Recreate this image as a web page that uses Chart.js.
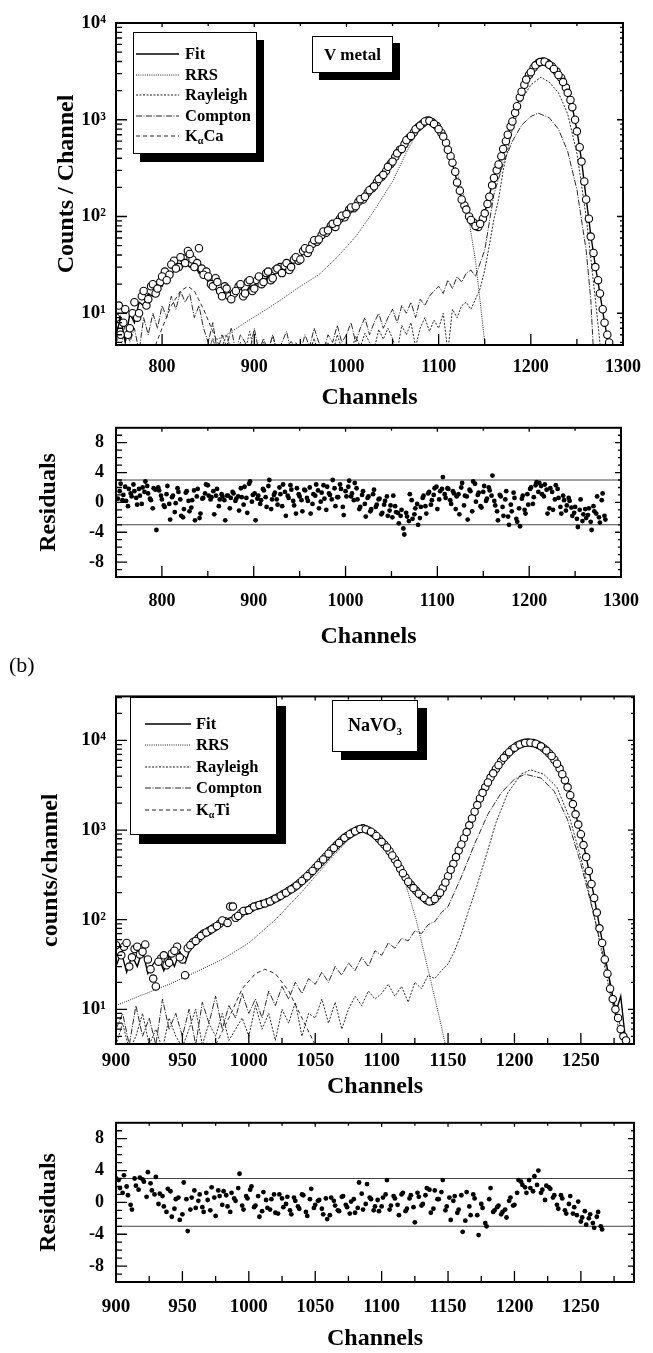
<!DOCTYPE html>
<html>
<head>
<meta charset="utf-8">
<script src="https://cdn.jsdelivr.net/npm/chart.js@4/dist/chart.umd.min.js"></script>
<style>
  body { margin: 0; background: #fff; width: 653px; height: 1353px; position: relative; overflow: hidden;
         font-family: "Liberation Serif", "Times New Roman", serif; }
  canvas { position: absolute; left: 0; }
  .box { position: absolute; box-sizing: border-box; background: #fff; border: 1px solid #000;
         font-weight: bold; color: #000; z-index: 5; }
  .legend .row { display: flex; align-items: center; height: 20.5px; font-size: 16.5px; }
  .legend svg { display: block; }
  .legend sub { font-size: 10px; vertical-align: -3px; }
  .tag { display: flex; align-items: center; justify-content: center; font-size: 17px; }
  .tag sub { font-size: 11px; vertical-align: -4px; }
</style>
</head>
<body>
<canvas id="vSpec" width="653" height="412" style="top:0px"></canvas>
<canvas id="vRes" width="653" height="246" style="top:405px"></canvas>
<canvas id="nSpec" width="653" height="426" style="top:675px"></canvas>
<canvas id="nRes" width="653" height="253" style="top:1100px"></canvas>

<div class="box legend" style="left:133px;top:32px;width:124px;height:122px;padding:11px 0 0 2px;box-shadow:7px 8px 0 #000">
  <div class="row"><svg width="43" height="4"><line x1="0" y1="2" x2="43" y2="2" stroke="#000" stroke-width="1.5"/></svg><span style="margin-left:6px">Fit</span></div>
  <div class="row"><svg width="43" height="4"><line x1="0" y1="2" x2="43" y2="2" stroke="#222" stroke-width="1" stroke-dasharray="1,1.2"/></svg><span style="margin-left:6px">RRS</span></div>
  <div class="row"><svg width="43" height="4"><line x1="0" y1="2" x2="43" y2="2" stroke="#222" stroke-width="1" stroke-dasharray="2,1.5"/></svg><span style="margin-left:6px">Rayleigh</span></div>
  <div class="row"><svg width="43" height="4"><line x1="0" y1="2" x2="43" y2="2" stroke="#222" stroke-width="1" stroke-dasharray="6,1.5,1,1.5"/></svg><span style="margin-left:6px">Compton</span></div>
  <div class="row"><svg width="43" height="4"><line x1="0" y1="2" x2="43" y2="2" stroke="#222" stroke-width="1" stroke-dasharray="4,3"/></svg><span style="margin-left:6px">K<sub>α</sub>Ca</span></div>
</div>
<div class="box tag" style="left:312px;top:36px;width:81px;height:37px;box-shadow:7px 7px 0 #000">V metal</div>

<div style="position:absolute;left:9px;top:652px;font-size:22px;z-index:5">(b)</div>

<div class="box legend" style="left:130px;top:697px;width:147px;height:138px;padding:15px 0 0 14px;box-shadow:9px 9px 0 #000">
  <div class="row" style="height:21.5px"><svg width="46" height="4"><line x1="0" y1="2" x2="46" y2="2" stroke="#000" stroke-width="1.5"/></svg><span style="margin-left:5px">Fit</span></div>
  <div class="row" style="height:21.5px"><svg width="46" height="4"><line x1="0" y1="2" x2="46" y2="2" stroke="#222" stroke-width="1" stroke-dasharray="1,1.2"/></svg><span style="margin-left:5px">RRS</span></div>
  <div class="row" style="height:21.5px"><svg width="46" height="4"><line x1="0" y1="2" x2="46" y2="2" stroke="#222" stroke-width="1" stroke-dasharray="2,1.5"/></svg><span style="margin-left:5px">Rayleigh</span></div>
  <div class="row" style="height:21.5px"><svg width="46" height="4"><line x1="0" y1="2" x2="46" y2="2" stroke="#222" stroke-width="1" stroke-dasharray="6,1.5,1,1.5"/></svg><span style="margin-left:5px">Compton</span></div>
  <div class="row" style="height:21.5px"><svg width="46" height="4"><line x1="0" y1="2" x2="46" y2="2" stroke="#222" stroke-width="1" stroke-dasharray="4,3"/></svg><span style="margin-left:5px">K<sub>α</sub>Ti</span></div>
</div>
<div class="box tag" style="left:332px;top:700px;width:86px;height:52px;font-size:18px;box-shadow:9px 8px 0 #000"><span>NaVO<sub>3</sub></span></div>

<script>
// ===== DATA =====

const range = (a, b, s) => Array.from({ length: Math.floor((b - a) / s) + 1 }, (_, i) => a + i * s);

// ----- (a) V metal spectrum, measured points -----
const V_CH = range(750, 1285, 5);
const V_DATA = [
  9, 6, 11, 7, 13, 10, 17, 14, 20, 18,            // 750-795
  24, 22, 32, 29, 38, 33, 41, 30, 47, 25,         // 800-845
  24, 19, 21, 15, 18, 14, 17, 20, 16, 22,         // 850-895
  18, 24, 21, 27, 23, 29, 26, 33, 30, 38,         // 900-945
  36, 47, 46, 57, 58, 70, 72, 84, 88, 102,        // 950-995
  106, 124, 128, 151, 160, 187, 205, 244, 270, 326, // 1000-1045
  370, 450, 500, 615, 680, 800, 870, 960, 975, 905, // 1050-1095
  800, 670, 490, 360, 225, 150, 118, 92, 80, 84,  // 1100-1145
  108, 160, 250, 345, 500, 700, 960, 1380, 1950, 2600, // 1150-1195
  3100, 3650, 3950, 3980, 3700, 3350, 2900, 2450, 1900, 1350, // 1200-1245
  760, 370, 150, 62, 30, 16, 8, 5                 // 1250-1285
];
const V_CH_B = range(753, 1283, 5);
const V_DATA_B = [
  12, 8, 6, 10, 9, 15, 12, 19, 16, 21,            // 753-798
  27, 25, 35, 30, 37, 44, 36, 33, 29, 27,         // 803-848
  20, 23, 17, 19, 15, 16, 19, 15, 21, 17,         // 853-898
  22, 20, 26, 22, 28, 30, 31, 28, 36, 35,         // 903-948
  44, 42, 52, 55, 64, 68, 80, 78, 95, 98,         // 953-998
  118, 122, 142, 150, 176, 196, 226, 256, 296, 350, // 1003-1048
  415, 490, 560, 650, 740, 840, 920, 985, 940, 860, // 1053-1098
  730, 580, 420, 290, 185, 130, 100, 86, 78, 95,  // 1103-1148
  135, 210, 300, 420, 600, 850, 1180, 1700, 2300, 2900, // 1153-1198
  3450, 3850, 4000, 3850, 3550, 3150, 2700, 2150, 1600, 1000, // 1203-1248
  520, 230, 95, 42, 22, 11, 6                     // 1253-1283
];
const V_FIT = [
  6, 9, 5, 10, 8, 13, 12, 16, 15, 20,
  19, 25, 24, 31, 28, 33, 30, 32, 26, 27,
  21, 22, 16, 18, 15, 17, 15, 18, 16, 19,
  19, 22, 21, 24, 24, 27, 27, 31, 32, 36,
  38, 44, 48, 54, 58, 66, 72, 80, 88, 98,
  108, 120, 132, 147, 164, 185, 208, 238, 272, 318,
  372, 437, 512, 598, 688, 783, 875, 945, 962, 912,
  810, 665, 500, 350, 230, 150, 112, 92, 82, 86,
  110, 165, 255, 350, 490, 690, 980, 1400, 1950, 2550,
  3150, 3600, 3920, 3960, 3750, 3380, 2900, 2450, 1900, 1350,
  780, 380, 155, 65, 31, 16, 8, 4.5
];
const V_RRS_X = [853, 870, 890, 910, 930, 950, 970, 990, 1010, 1030, 1050, 1065, 1075, 1085, 1090, 1100, 1110, 1120, 1130, 1140, 1150];
const V_RRS   = [5, 6, 8, 10.5, 14, 19, 25, 38, 62, 115, 230, 460, 690, 890, 920, 790, 530, 285, 135, 35, 5];
const V_RAY_X = range(850, 1150, 5).concat([1155, 1160, 1165, 1170, 1180, 1190, 1200, 1211, 1220, 1230, 1240, 1250, 1260, 1270, 1276]);
const V_RAY = [
  4, 5.5, 3.8, 4.5, 6, 4, 3.5, 5, 4, 6.5,
  4, 3.6, 5, 4.2, 5.8, 3.9, 4.6, 3.5, 5.2, 4,
  3.7, 4.8, 4, 5.5, 3.6, 4.4, 5, 3.8, 6, 4.3,
  5, 4, 5.8, 4.5, 6.2, 5, 4.2, 6.8, 5.4, 7,
  5.5, 4, 7.5, 6, 8, 4.5, 7, 9, 6.5, 8.5,
  7, 10, 4, 11, 9, 12, 13, 11, 14, 18,
  28,
  50, 94, 150, 300, 800, 1600, 2300, 2750, 2450, 1900, 1150, 450, 100, 14, 4
];
const V_COMP_X = range(750, 1150, 5).concat([1160, 1170, 1180, 1190, 1200, 1208, 1220, 1230, 1240, 1250, 1260, 1265, 1268]);
const V_COMP = [
  6, 4, 8, 5, 7, 4, 9, 6, 10, 7,
  12, 9, 15, 11, 17, 13, 16, 9, 12, 7,
  5, 8, 4, 6, 4.5, 7, 4, 6, 5, 4,
  7, 4, 5.5, 4, 6, 4, 5, 6.5, 4, 5,
  4, 6, 4.5, 7, 5, 4, 6, 5, 7.5, 5,
  6, 8, 5, 7, 9, 6, 8, 10, 7, 9,
  11, 8, 12, 10, 13, 9, 14, 12, 15, 17,
  19, 16, 22, 18, 24, 21, 26, 28, 24, 33,
  45,
  170, 350, 600, 880, 1080, 1170, 1050, 800, 470, 190, 45, 14, 4
];
const V_KCA_X = [790, 800, 810, 820, 828, 835, 845, 855, 865];
const V_KCA   = [4, 7, 12, 17, 19, 17, 11, 6.5, 4];

// ----- (a) V metal residuals -----
const V_RES_CH = range(752, 1283, 3);
const V_RES = [
  0.5, 2.5, 1.0, 0.2, 1.8, 0.8, 1.5, -0.3, 0.9, 2.0, 2.8, 1.2, 0.3, 1.9, -3.7, 1.6, 0.4,
  -0.6, 2.2, -2.3, 0.9, -0.1, 1.4, -1.8, -0.9, 1.5, -1.2, 0.3, -2.4, 1.8, -1.5, 0.6, 2.4, 0.9,
  0.7, -1.6, 1.8, 0.4, 0.8, -2.4, 0.9, 0.6, 1.2, 0.5, -1.1, 0.7, 2.1, -1.4, 2.8, 1.0, -2.4,
  0.9, 0.3, 1.6, -0.6, 3.0, 0.4, 1.3, -0.3, 1.1, 2.4, -1.8, 0.6, 1.7, -0.4, 1.9, 0.8, -1.2,
  1.6, 0.2, -1.5, 1.1, 2.4, -0.8, 1.3, 0.5, 2.1, 1.0, 3.0, -0.5, 0.7, 1.8, -1.7, 0.8, 2.9,
  1.2, 2.6, 0.4, -0.6, 1.5, -1.9, 0.8, -0.9, 1.7, -0.3, 0.5, -1.4, 0.2, -1.8, -0.4, 0.9, -1.3,
  -2.8, -1.0, -4.3, -1.9, 1.1, -2.2, -0.8, -3.0, -0.6, 0.9, -1.5, 1.4, 0.3, 1.9, -0.9, 1.5, 3.4,
  0.6, 1.8, -0.2, 1.2, 0.8, -1.6, 2.6, 0.9, -2.3, 1.5, 2.8, 0.1, 1.3, -0.7, 2.2, 0.5, 1.6,
  3.6, -0.4, -2.4, 0.8, -1.8, 1.5, -3.0, -1.2, 0.6, -2.6, -3.2, 0.9, -1.5, -0.3, 2.0, 0.7, 2.7,
  2.6, 1.1, 2.4, -1.5, 1.9, -1.0, 2.3, 0.6, -1.5, 0.3, -0.4, 0.2, -1.8, -0.6, -3.3, 0.4, -1.6,
  -2.1, -0.8, -3.7, -1.2, 0.8, -2.7, 1.2, -2.3
];
const V_RES_CH_B = range(754, 1282, 3);
const V_RES_B = [
  1.5, 0.3, 2.1, -0.5, 1.2, 2.4, 0.6, 1.8, -0.2, 1.4, 2.2, 0.5, -0.8, 1.7, 2.0, 0.9, -0.4,
  1.1, -0.2, 0.7, -1.3, 1.9, 0.4, -2.0, 1.3, 0.2, -0.7, 1.6, 0.8, -2.1, 0.5, 1.2, 2.3, 0.4,
  1.5, 0.9, -0.5, 1.1, 0.3, 0.9, -0.8, 1.4, 0.2, 0.8, 1.9, -0.3, 0.6, 2.5, 0.1, 1.2, 0.5,
  -0.2, 1.8, 0.7, 2.2, -0.9, 1.0, 0.4, 2.0, -0.5, 1.4, 0.9, 2.3, 0.2, -1.5, 1.1, 0.3, 1.7,
  0.6, 2.0, -0.2, 0.9, 1.6, 0.1, 2.3, -1.0, 1.2, 0.4, 1.9, 0.7, 2.4, -0.6, 1.5, 2.1, 0.8,
  0.3, 1.9, -0.9, 1.0, -0.2, 0.6, -1.2, 1.1, -0.6, 0.4, -1.6, -0.3, 0.8, -1.1, -2.0, -0.5, -1.4,
  -1.8, -3.5, -1.4, -2.5, 0.3, -1.6, -0.2, -2.1, 0.6, -0.5, 1.2, -0.3, 1.0, 2.1, 0.4, 1.8, 1.1,
  1.9, 0.3, 1.5, -0.9, 1.1, 2.0, -0.4, 0.8, 1.7, -1.2, 2.5, 1.0, -0.5, 1.4, 0.2, 2.0, 0.9,
  0.2, -1.2, 1.0, -0.6, 0.4, -1.9, -0.3, 1.3, -2.2, -0.8, 0.5, -1.0, 1.1, 1.8, -0.2, 2.3, 1.4,
  2.2, 0.8, 1.7, -0.8, 1.4, 0.4, 1.8, -0.6, 0.9, -1.1, 0.6, -0.7, -1.4, -2.2, -1.0, -2.5, -0.9,
  -1.7, -2.6, -0.5, -1.5, -2.0, 0.3, -1.8
];

// ----- (b) NaVO3 spectrum, measured points -----
const N_CH = range(900, 1284, 4);
const N_DATA = [
  52, 40, 55, 38, 50, 44, 36, 22, 34, 40,                 // 900-936
  33, 45, 38, 24, 52, 58, 66, 72, 78, 85,                 // 940-976
  98, 92, 140, 110, 125, 128, 140, 146, 152, 160,         // 980-1016
  172, 185, 200, 218, 240, 270, 305, 350, 405, 470,       // 1020-1056
  545, 630, 720, 820, 900, 970, 1030, 1020, 960, 860,     // 1060-1096
  740, 640, 520, 420, 330, 265, 225, 195, 175, 160,       // 1100-1136
  170, 200, 260, 360, 500, 690, 950, 1350, 1900, 2600,    // 1140-1176
  3400, 4300, 5300, 6400, 7400, 8300, 9000, 9400, 9450, 9200, // 1180-1216
  8600, 7700, 6700, 5500, 4200, 3000, 1950, 1150, 680, 350,   // 1220-1256
  175, 80, 36, 17, 10, 6, 4.5                             // 1260-1284
];
const N_CH_B = range(902, 1282, 4);
const N_DATA_B = [
  45, 50, 30, 47, 41, 53, 28, 18, 37, 31,                 // 902-938
  42, 50, 36, 48, 56, 62, 70, 75, 82, 90,                 // 942-978
  96, 140, 105, 118, 126, 135, 143, 150, 156, 166,        // 982-1018
  178, 193, 210, 228, 255, 288, 328, 378, 438, 505,       // 1022-1058
  590, 675, 770, 860, 940, 1010, 1050, 990, 910, 800,     // 1062-1098
  690, 580, 470, 370, 295, 245, 210, 185, 165, 162,       // 1102-1138
  185, 225, 305, 420, 590, 810, 1130, 1600, 2250, 3000,   // 1142-1178
  3850, 4800, 5850, 6900, 7900, 8700, 9250, 9500, 9350, 8900, // 1182-1218
  8200, 7200, 6100, 4850, 3600, 2450, 1500, 900, 500, 250,    // 1222-1258
  120, 55, 25, 13, 8, 5                                   // 1262-1282
];
const N_FIT = [
  30, 44, 26, 40, 30, 46, 25, 32, 38, 27,
  40, 30, 44, 33, 48, 56, 64, 71, 78, 86,
  94, 102, 108, 114, 120, 126, 133, 140, 148, 158,
  170, 183, 198, 216, 238, 266, 302, 346, 400, 465,
  540, 625, 715, 810, 895, 965, 1010, 1005, 950, 855,
  740, 625, 510, 410, 325, 262, 220, 192, 175, 168,
  172, 195, 250, 350, 490, 680, 940, 1330, 1870, 2570,
  3380, 4280, 5280, 6350, 7380, 8250, 8950, 9350, 9420, 9150,
  8550, 7680, 6650, 5480, 4200, 3000, 1960, 1170, 690, 360,
  180, 85, 40, 20, 9, 14, 4
];
const N_RRS_X = [900, 920, 940, 960, 980, 1000, 1020, 1040, 1060, 1075, 1085, 1095, 1105, 1116, 1126, 1134, 1144, 1148];
const N_RRS   = [11, 14.5, 19, 26, 36, 55, 100, 205, 450, 780, 990, 900, 640, 320, 100, 32, 7.5, 4];
const N_RAY_X = range(900, 1155, 5).concat([1160, 1165, 1171, 1180, 1186, 1195, 1205, 1212, 1222, 1232, 1242, 1252, 1262, 1272, 1280]);
const N_RAY = [
  4, 7, 3.5, 5, 9, 4, 6, 3.6, 8, 5,
  3.8, 6, 10, 4, 7, 5, 9, 4.5, 6, 8,
  5, 11, 6, 9, 4.5, 10, 7, 12, 5, 9,
  8, 13, 7, 12, 6, 10, 14, 11, 16, 13,
  15, 19, 14, 18, 12, 20, 17, 24, 22, 27,
  32, 45,
  70, 120, 220, 600, 1200, 2600, 4200, 4700, 4200, 3000, 1300, 380, 80, 15, 5
];
const N_COMP_X = range(900, 1145, 5).concat([1150, 1160, 1170, 1180, 1190, 1200, 1208, 1220, 1230, 1240, 1250, 1260, 1270, 1278, 1284]);
const N_COMP = [
  6, 9, 4, 11, 5, 8, 4, 13, 6, 9,
  5, 10, 4, 12, 7, 14, 6, 11, 8, 15,
  9, 13, 8, 16, 11, 18, 13, 20, 15, 22,
  19, 26, 20, 30, 24, 33, 27, 38, 30, 45,
  40, 55, 48, 62, 58, 75, 70, 88, 95, 120,
  140, 300, 700, 1500, 2600, 3700, 4200, 3800, 2700, 1300, 420, 110, 25, 8, 4
];
const N_KTI_X = [975, 985, 995, 1005, 1012, 1020, 1030, 1040, 1050];
const N_KTI   = [4, 8, 17, 25, 28, 25, 16, 8, 4];

// ----- (b) NaVO3 residuals -----
const N_RES_CH = range(900, 1266, 3);
const N_RES = [
  3.0, 1.8, 3.4, 0.9, -0.9, 2.1, 3.1, 2.6, 3.8, 1.5, 3.2, 1.1, -0.5, 1.7, -1.8, 0.4, -2.2,
  2.5, -3.6, 0.6, -0.7, 1.0, -1.2, 0.3, 1.9, -1.7, 0.8, 1.4, -0.5, 1.2, 0.2, 3.6, -0.9, 0.5,
  2.0, -0.4, -1.8, 1.3, -0.7, 0.4, -1.3, 1.0, -0.6, 0.7, -1.5, 0.2, -0.8, 0.9, -1.7, 1.7, -0.3,
  0.3, -1.5, -2.1, 0.6, -0.4, -1.1, 0.8, -0.6, 0.1, -1.3, 2.5, -0.9, 2.3, 0.4, -0.5, -1.1, 0.6,
  2.8, -0.4, 0.5, -1.6, 1.2, -0.8, 0.9, -2.5, 0.7, -0.2, 1.8, -1.3, 1.5, 0.4, 2.8, -0.5, -2.2,
  0.8, -0.9, -3.7, 1.3, -1.6, 0.5, -4.1, -0.7, -3.0, 1.8, -1.0, -0.4, -1.2, -1.9, 0.6, -0.3, 2.8,
  2.2, 1.2, 1.8, 3.3, 4.0, 1.6, 2.1, 1.7, 0.9, -0.8, 0.5, -1.4, 0.8, -0.6, 0.1, -1.9, -2.8,
  -1.5, -3.2, -1.2, -3.4
];
const N_RES_CH_B = range(902, 1265, 3);
const N_RES_B = [
  2.8, 1.2, 2.0, -0.3, 3.0, 1.6, 2.9, 0.7, 2.4, 1.0, -0.2, 0.8, -1.2, 1.4, -0.8, 0.6, -1.5,
  0.4, -0.9, 1.5, 0.2, -0.6, 1.2, -1.0, 0.6, 1.5, -0.3, 0.9, -1.2, 0.5, 1.8, -0.4, 0.8, 1.6,
  -0.6, 0.8, -1.1, 0.3, -0.9, 1.0, -1.4, 0.5, -0.2, -1.0, 0.6, -0.5, 1.0, -1.2, 0.4, -0.7, 0.2,
  -0.8, 0.5, -1.6, 0.2, -1.0, 0.7, -0.3, -1.4, 0.4, -0.7, 1.1, -0.2, 0.6, -1.0, 0.3, -0.5, 1.0,
  -0.9, 0.8, -0.3, 1.0, -1.1, 0.5, -0.6, 1.2, -0.4, 0.9, 1.6, -0.8, 0.4, 1.3, -1.0, 0.6, 0.2,
  -1.3, 0.9, -2.3, -0.5, 1.0, -1.6, -0.2, -2.6, 0.4, -1.2, -0.6, -1.5, -0.9, 0.2, -0.4, 1.2, 2.6,
  1.9, 2.8, 1.4, 2.2, 1.2, 0.3, 1.9, 0.6, -0.3, 0.9, -1.0, -0.2, -1.4, -1.6, -2.4, -1.1, -2.0,
  -2.6, -1.8, -3.0
];

// ----- axes -----
const V_X_TICKS = [800, 900, 1000, 1100, 1200, 1300];
const V_X_MINOR = [850, 950, 1050, 1150, 1250];
const N_X_TICKS = [900, 950, 1000, 1050, 1100, 1150, 1200, 1250];
const N_X_MINOR = [925, 975, 1025, 1075, 1125, 1175, 1225, 1275];
const LOG_TICKS = [10, 100, 1000, 10000];
const RES_TICKS = [-8, -4, 0, 4, 8];
const RES_MINOR = [-9, -7, -6, -5, -3, -2, -1, 1, 2, 3, 5, 6, 7, 9];
const LIMITS = [3, -3];

// ===== DRAWING =====

const FAMILY = "'Liberation Serif', 'Times New Roman', serif";
const SUP = { 1: '¹', 2: '²', 3: '³', 4: '⁴' };

function logMinors(lo, hi) {
  const out = [];
  for (let e = 0; e <= 4; e++)
    for (let m = 2; m <= 9; m++) { const v = m * Math.pow(10, e); if (v > lo && v < hi) out.push(v); }
  return out;
}

// frame round the plot area, with inward ticks on all four sides
function framePlugin(t) {
  return {
    id: 'frame',
    afterDatasetsDraw(chart) {
      const { ctx, chartArea: a, scales: { x, y } } = chart;
      ctx.save();
      ctx.strokeStyle = '#000';
      ctx.lineWidth = 1.3;
      ctx.beginPath();
      const seg = (x1, y1, x2, y2) => { ctx.moveTo(x1, y1); ctx.lineTo(x2, y2); };
      t.xMajor.forEach(v => { const p = x.getPixelForValue(v); seg(p, a.bottom, p, a.bottom - 11); seg(p, a.top, p, a.top + 4); });
      t.xMinor.forEach(v => { const p = x.getPixelForValue(v); seg(p, a.bottom, p, a.bottom - 6); seg(p, a.top, p, a.top + 3); });
      t.yMajor.forEach(v => { const p = y.getPixelForValue(v); seg(a.left, p, a.left + 11, p); seg(a.right, p, a.right - 6, p); });
      t.yMinor.forEach(v => { const p = y.getPixelForValue(v); seg(a.left, p, a.left + 6, p); seg(a.right, p, a.right - 3, p); });
      ctx.stroke();
      ctx.lineWidth = 2;
      ctx.strokeRect(a.left, a.top, a.right - a.left, a.bottom - a.top);
      ctx.restore();
    }
  };
}

const pts = (xs, ys) => xs.map((x, i) => ({ x, y: ys[i] }));

const curve = (xs, ys, dash, width = 1, color = '#2a2a2a') => ({
  data: pts(xs, ys), showLine: true, pointRadius: 0, borderColor: color,
  borderWidth: width, borderDash: dash, tension: 0, fill: false
});

const circles = (xs, ys) => ({
  data: pts(xs, ys), showLine: false, pointRadius: 3.7, pointBorderWidth: 1.1,
  pointBackgroundColor: '#fff', pointBorderColor: '#000'
});

const dots = (xs, ys) => ({
  data: pts(xs, ys), showLine: false, pointRadius: 2.4, pointBorderWidth: 0,
  pointBackgroundColor: '#000', pointBorderColor: '#000'
});

function makeChart(id, o) {
  return new Chart(document.getElementById(id), {
    type: 'scatter',
    data: { datasets: o.datasets },
    options: {
      responsive: false, animation: false, devicePixelRatio: 1,
      events: [],
      layout: { padding: { top: o.padTop, right: 19, left: 0, bottom: 0 } },
      plugins: { legend: { display: false }, tooltip: { enabled: false } },
      scales: {
        x: {
          type: 'linear', min: o.xMin, max: o.xMax,
          grid: { display: false, drawTicks: false }, border: { display: false },
          afterBuildTicks: s => { s.ticks = o.xTicks.map(v => ({ value: v })); },
          afterFit: s => { s.height = o.xHeight; },
          ticks: { color: '#000', padding: o.xPad, maxRotation: 0, autoSkip: false,
                   font: { family: FAMILY, size: o.xFont, weight: 'bold' }, callback: v => String(v) },
          title: { display: true, text: 'Channels', color: '#000', padding: { top: 0, bottom: 0 },
                   font: { family: FAMILY, size: 24, weight: 'bold' } }
        },
        y: {
          type: o.yType, min: o.yMin, max: o.yMax,
          grid: { display: false, drawTicks: false }, border: { display: false },
          afterBuildTicks: s => { s.ticks = o.yTicks.map(v => ({ value: v })); },
          afterFit: s => { s.width = 116; },
          ticks: { color: '#000', padding: o.yPad, autoSkip: false,
                   font: { family: FAMILY, size: o.yFont, weight: 'bold' }, callback: o.yLabel },
          title: { display: true, text: o.yTitle, color: '#000', padding: { top: o.yTitlePad, bottom: 0 },
                   font: { family: FAMILY, size: 24, weight: 'bold' } }
        }
      }
    },
    plugins: [framePlugin(o.frame)]
  });
}

const logLabel = v => '10' + SUP[Math.round(Math.log10(v))];
const limitLines = (xMin, xMax) => LIMITS.map(l => curve([xMin, xMax], [l, l], [], 1, '#444'));

window.addEventListener('load', () => {
  makeChart('vSpec', {
    datasets: [
      circles(V_CH, V_DATA),
      circles(V_CH_B, V_DATA_B),
      curve(V_CH, V_FIT, [], 1.4, '#000'),
      curve(V_RRS_X, V_RRS, [1, 1.2]),
      curve(V_RAY_X, V_RAY, [2, 1.5]),
      curve(V_COMP_X, V_COMP, [6, 1.5, 1, 1.5]),
      curve(V_KCA_X, V_KCA, [4, 3])
    ],
    padTop: 23, xMin: 750, xMax: 1300, xTicks: V_X_TICKS, xHeight: 67, xPad: 12, xFont: 18,
    yType: 'logarithmic', yMin: 4.7, yMax: 10000, yTicks: LOG_TICKS, yPad: 10, yFont: 19,
    yLabel: logLabel, yTitle: 'Counts / Channel', yTitlePad: 52,
    frame: { xMajor: V_X_TICKS, xMinor: V_X_MINOR, yMajor: LOG_TICKS, yMinor: logMinors(4.7, 10000) }
  });

  makeChart('vRes', {
    datasets: [dots(V_RES_CH, V_RES), dots(V_RES_CH_B, V_RES_B), ...limitLines(750, 1300)],
    padTop: 12, xMin: 750, xMax: 1300, xTicks: V_X_TICKS, xHeight: 74, xPad: 14, xFont: 18,
    yType: 'linear', yMin: -10, yMax: 10, yTicks: RES_TICKS, yPad: 12, yFont: 18,
    yLabel: v => String(v), yTitle: 'Residuals', yTitlePad: 34,
    frame: { xMajor: V_X_TICKS, xMinor: V_X_MINOR, yMajor: RES_TICKS, yMinor: RES_MINOR }
  });

  makeChart('nSpec', {
    datasets: [
      circles(N_CH, N_DATA),
      circles(N_CH_B, N_DATA_B),
      curve(N_CH, N_FIT, [], 1.4, '#000'),
      curve(N_RRS_X, N_RRS, [1, 1.2]),
      curve(N_RAY_X, N_RAY, [2, 1.5]),
      curve(N_COMP_X, N_COMP, [6, 1.5, 1, 1.5]),
      curve(N_KTI_X, N_KTI, [4, 3])
    ],
    padTop: 17, xMin: 900, xMax: 1290, xTicks: N_X_TICKS, xHeight: 57, xPad: 6, xFont: 19,
    yType: 'logarithmic', yMin: 4.1, yMax: 31000, yTicks: LOG_TICKS, yPad: 10, yFont: 19,
    yLabel: logLabel, yTitle: 'counts/channel', yTitlePad: 36,
    frame: { xMajor: N_X_TICKS, xMinor: N_X_MINOR, yMajor: LOG_TICKS, yMinor: logMinors(4.1, 31000) }
  });

  makeChart('nRes', {
    datasets: [dots(N_RES_CH, N_RES), dots(N_RES_CH_B, N_RES_B), ...limitLines(900, 1290)],
    padTop: 12, xMin: 900, xMax: 1290, xTicks: N_X_TICKS, xHeight: 71, xPad: 14, xFont: 19,
    yType: 'linear', yMin: -10, yMax: 10, yTicks: RES_TICKS, yPad: 12, yFont: 18,
    yLabel: v => String(v), yTitle: 'Residuals', yTitlePad: 34,
    frame: { xMajor: N_X_TICKS, xMinor: N_X_MINOR, yMajor: RES_TICKS, yMinor: RES_MINOR }
  });
});
</script>
</body>
</html>
